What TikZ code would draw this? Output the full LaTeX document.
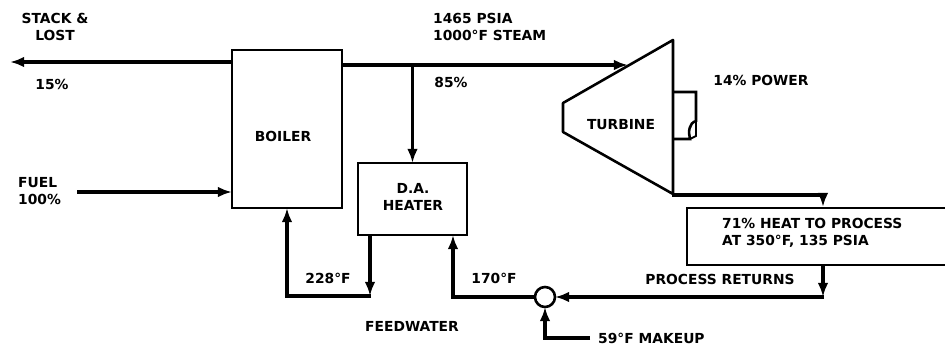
\documentclass[tikz,border=0pt]{standalone}
\usepackage{fontspec}
\setmainfont{DejaVu Sans}
\usetikzlibrary{arrows.meta,calc}
\begin{document}
\begin{tikzpicture}[x=0.03cm,y=-0.03cm,
 lbl/.style={font=\bfseries\fontsize{11.8}{14.5}\selectfont, inner sep=0pt, align=center},
 flow/.style={line width=3pt, -{Latex[length=12pt,width=9pt]}},
 box/.style={draw, line width=2.2pt, inner sep=0pt, outer sep=0pt},
 thin/.style={line width=2.2pt},
]
\useasboundingbox (0,0) rectangle (945,347);
% boxes
\node[box, minimum width=3.3cm, minimum height=4.74cm] (boiler) at (287,129) {};
\node[lbl] (boilerlbl) at (283,136) {BOILER};
\node[box, minimum width=3.27cm, minimum height=2.16cm] (heater) at (412.5,199) {};
\node[lbl] (heaterlbl) at (413,197) {D.A.\\HEATER};
\node[circle, draw, line width=2.2pt, minimum size=0.6cm, inner sep=0pt, outer sep=0pt] (mix) at (545,297) {};
% turbine
\draw[thin, line join=round] (563,103) -- (673,40) -- (673,194) -- (563,132) -- cycle;
\draw[thin] (673,92) -- (696,92) -- (696,121) .. controls (689,123) and (688,132) .. (690,139) -- (673,139);
\draw[line width=1.6pt] (696,121) -- (696,136) -- (690,139);
\node[lbl] (turbine) at (621,125) {TURBINE};
\coordinate (tin) at (628,65);
\coordinate (tout) at (672,195);
% process box (open to the right)
\draw[thin] (945,208) -- (687,208) -- (687,265) -- (945,265);
\node[lbl, anchor=west, align=left] (proc) at (722,233) {71\% HEAT TO PROCESS\\AT 350°F, 135 PSIA};
% stack and fuel
\coordinate (stack) at (10,62);
\coordinate (fuel) at (77,192);
\draw[flow] (boiler.west |- stack) -- (stack);
\draw[flow] (fuel) -- (boiler.west |- fuel);
% steam
\draw[flow] (boiler.east |- tin) -- (tin);
\draw[flow] (heater.north |- tin) -- (heater.north);
% exhaust to process
\coordinate (pin) at (823,207);
\draw[flow] (tout) -- (823,195) -- (pin);
% process returns
\coordinate (pret) at (823,265);
\draw[flow] (pret) -- (823,297);
\draw[flow] (824,297) -- (mix.east);
% mixer to heater
\draw[flow] (mix.west) -- (453,297) -- ($(heater.south east)+(-14,0)$);
% heater to boiler
\draw[flow] ($(heater.south west)+(12,0)$) -- (370,296);
\draw[flow] (371,296) -- (boiler.south |- 0,296) -- (boiler.south);
% makeup
\coordinate (mk) at (590,338);
\draw[flow] (mk) -- (545,338) -- (mix.south);
% labels
\node[lbl] (l1) at (55,27) {STACK \&\\LOST};
\node[lbl] (l2) at (52,84) {15\%};
\node[lbl, anchor=west, align=left] (l3) at (18,191) {FUEL\\100\%};
\node[lbl, anchor=west, align=left] (l4) at (433,27) {1465 PSIA\\1000°F STEAM};
\node[lbl] (l5) at (451,82) {85\%};
\node[lbl] (l6) at (761,80) {14\% POWER};
\node[lbl] (l7) at (328,278) {228°F};
\node[lbl] (l8) at (494,278) {170°F};
\node[lbl] (l9) at (412,326) {FEEDWATER};
\node[lbl] (l10) at (720,279) {PROCESS RETURNS};
\node[lbl, anchor=west] (l11) at (598,338) {59°F MAKEUP};
\end{tikzpicture}
\end{document}
